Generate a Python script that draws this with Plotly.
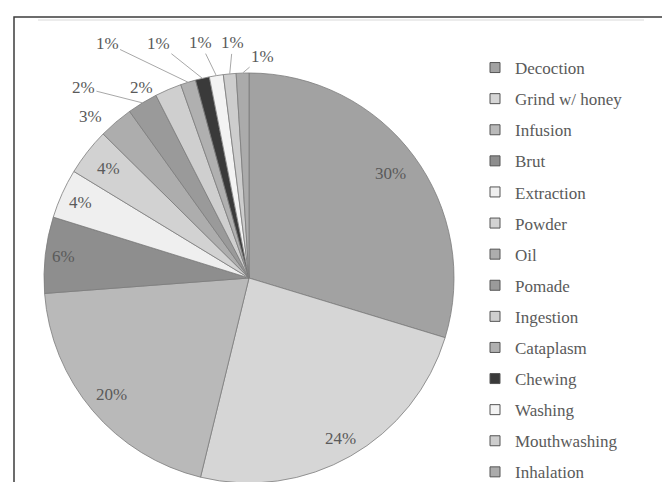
import math
import plotly.graph_objects as go

categories = ["Decoction", "Grind w/ honey", "Infusion", "Brut", "Extraction", "Powder",
              "Oil", "Pomade", "Ingestion", "Cataplasm", "Chewing", "Washing",
              "Mouthwashing", "Inhalation"]
values = [29.7, 24.1, 20.0, 6.0, 3.9, 3.7, 2.7, 2.4, 2.1, 1.2, 1.1, 1.1, 1.0, 1.0]
colors = ["#a2a2a2", "#d6d6d6", "#b9b9b9", "#8e8e8e", "#efefef", "#d2d2d2",
          "#adadad", "#9a9a9a", "#cfcfcf", "#b0b0b0", "#3a3a3a", "#f3f3f3",
          "#cdcdcd", "#ababab"]

W, H = 670, 482
OFF = 8  # page body margin in the browser
FONT = "Liberation Serif, Times New Roman, serif"
TXT = "#5a5a5a"

# pie geometry (pixels)
DOM_X = [(43 - OFF) / W, (455 - OFF) / W]
DOM_Y = [(H - (483 - OFF)) / H, (H - (73 - OFF)) / H]
R = min((DOM_X[1] - DOM_X[0]) * W, (DOM_Y[1] - DOM_Y[0]) * H) / 2
CX = (DOM_X[0] + DOM_X[1]) / 2 * W
CY = H - (DOM_Y[0] + DOM_Y[1]) / 2 * H

# label placement style: ("in", radius factor) or ("out", dx, dy, leader)
label_style = [("in", 0.86), ("in", 0.9), ("in", 0.88), ("in", 0.91), ("in", 0.9),
               ("in", 0.87),
               ("out", -25, -6, False), ("out", -59, -15, True), ("out", -27, -2, False),
               ("out", -81, -39, True), ("out", -44, -35, True), ("out", -16, -33, True),
               ("out", 3, -31, True), ("out", 20, -17, True)]

fig = go.Figure()
fig.add_trace(go.Pie(
    labels=categories, values=values, sort=False, direction="clockwise",
    rotation=0,
    marker=dict(colors=colors, line=dict(color="#7c7c7c", width=0.8)),
    textinfo="none",
    domain=dict(x=DOM_X, y=DOM_Y),
    showlegend=False, hoverinfo="label+percent",
))

total = sum(values)
cum = 0.0
annotations = []
lab_font = dict(family=FONT, size=17, color=TXT)
for v, st in zip(values, label_style):
    mid = (cum + v / 2) / total * 2 * math.pi
    cum += v
    txt = f"{round(100 * v / total)}%"
    if st[0] == "in":
        f = st[1]
        px = CX + f * R * math.sin(mid)
        py = CY - f * R * math.cos(mid)
        annotations.append(dict(x=px / W, y=1 - py / H, xref="paper", yref="paper",
                                xanchor="center", yanchor="middle",
                                text=txt, showarrow=False, font=lab_font))
    else:
        _, dx, dy, leader = st
        px = CX + R * math.sin(mid)
        py = CY - R * math.cos(mid)
        if leader:
            annotations.append(dict(x=px / W, y=1 - py / H, xref="paper", yref="paper",
                                    xanchor="center", yanchor="middle",
                                    text=txt, showarrow=True, arrowhead=0,
                                    arrowwidth=1, arrowcolor="#a8a8a8",
                                    ax=dx, ay=dy, font=lab_font))
        else:
            annotations.append(dict(x=(px + dx) / W, y=1 - (py + dy) / H,
                                    xref="paper", yref="paper",
                                    xanchor="center", yanchor="middle",
                                    text=txt, showarrow=False, font=lab_font))

for i, (c, col) in enumerate(zip(categories, colors)):
    fig.add_trace(go.Scatter(
        x=[None], y=[None], mode="markers", name=c, legendgroup=f"g{i}",
        marker=dict(symbol="square", size=10, color=col,
                    line=dict(color="#555555", width=1)),
        showlegend=True,
    ))

fig.update_layout(
    width=W, height=H,
    margin=dict(l=0, r=0, t=0, b=0, autoexpand=False),
    paper_bgcolor="white", plot_bgcolor="white",
    xaxis=dict(visible=False), yaxis=dict(visible=False),
    legend=dict(x=(475 - OFF) / W, xanchor="left", y=1 - (50 - OFF) / H, yanchor="top",
                font=dict(family=FONT, size=17, color=TXT),
                tracegroupgap=6, bgcolor="rgba(0,0,0,0)"),
    annotations=annotations,
    shapes=[
        dict(type="rect", xref="paper", yref="paper", x0=(14 - OFF) / W,
             x1=(667 - OFF) / W, y0=-0.05, y1=1 - (17 - OFF) / H,
             line=dict(color="#3c3c3c", width=1.5)),
        dict(type="line", xref="paper", yref="paper", x0=(38 - OFF) / W,
             x1=(644 - OFF) / W, y0=1 - (20 - OFF) / H, y1=1 - (20 - OFF) / H,
             line=dict(color="#d9d9d9", width=1)),
    ],
)

fig.write_html("out.html")
